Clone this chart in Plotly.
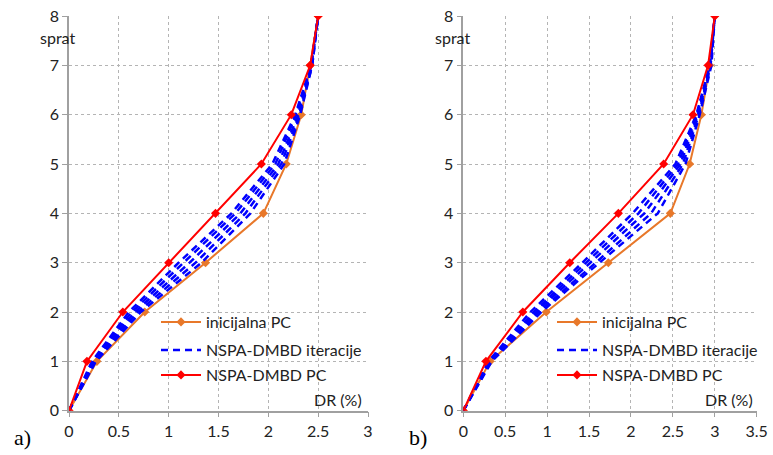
import plotly.graph_objects as go

storeys = [0, 1, 2, 3, 4, 5, 6, 7, 8]

# Chart a)
a_initial = [0, 0.28, 0.76, 1.37, 1.95, 2.18, 2.33, 2.42, 2.50]
a_final = [0, 0.18, 0.54, 1.00, 1.47, 1.93, 2.23, 2.42, 2.50]
a_iterations = [
    [0, 0.27, 0.72, 1.33, 1.82, 2.16, 2.32, 2.44, 2.50],
    [0, 0.26, 0.69, 1.27, 1.77, 2.13, 2.31, 2.44, 2.50],
    [0, 0.25, 0.66, 1.21, 1.72, 2.10, 2.30, 2.43, 2.50],
    [0, 0.24, 0.63, 1.15, 1.67, 2.07, 2.28, 2.43, 2.50],
    [0, 0.23, 0.60, 1.10, 1.63, 2.04, 2.27, 2.43, 2.50],
]

# Chart b)
b_initial = [0, 0.32, 0.99, 1.73, 2.47, 2.70, 2.84, 2.94, 3.00]
b_final = [0, 0.27, 0.71, 1.27, 1.85, 2.39, 2.74, 2.92, 3.00]
b_iterations = [
    [0, 0.34, 0.93, 1.63, 2.32, 2.65, 2.82, 2.96, 3.00],
    [0, 0.33, 0.90, 1.58, 2.24, 2.62, 2.81, 2.95, 3.00],
    [0, 0.32, 0.87, 1.52, 2.16, 2.59, 2.80, 2.95, 3.00],
    [0, 0.31, 0.84, 1.47, 2.09, 2.56, 2.79, 2.94, 3.00],
    [0, 0.30, 0.80, 1.42, 2.02, 2.53, 2.78, 2.94, 3.00],
]

ORANGE = "#E8782A"
RED = "#FF0000"
BLUE = "#0000FF"
GRID = "#B4B4B4"
AXIS = "#A0A0A0"
FONT = "Lato"
TXT = "#222222"

fig = go.Figure()

def add_panel(xa, ya, initial, iterations, final, legs):
    fig.add_trace(go.Scatter(
        x=initial, y=storeys, xaxis=xa, yaxis=ya, mode="lines+markers",
        name="inicijalna PC", line=dict(color=ORANGE, width=2),
        marker=dict(symbol="diamond", size=7, color=ORANGE), legend=legs[0], showlegend=True))
    for i, it in enumerate(iterations):
        fig.add_trace(go.Scatter(
            x=it, y=storeys, xaxis=xa, yaxis=ya, mode="lines",
            name="NSPA-DMBD iteracije", line=dict(color=BLUE, width=2.5, dash="7px,5px"),
            showlegend=(i == 0), legend=legs[1]))
    fig.add_trace(go.Scatter(
        x=final, y=storeys, xaxis=xa, yaxis=ya, mode="lines+markers",
        name="NSPA-DMBD PC", line=dict(color=RED, width=2),
        marker=dict(symbol="diamond", size=7, color=RED), legend=legs[2], showlegend=True))

add_panel("x", "y", a_initial, a_iterations, a_final, ["legend2", "legend3", "legend4"])
add_panel("x2", "y2", b_initial, b_iterations, b_final, ["legend5", "legend6", "legend7"])

W, H = 773, 455
def px(x):
    return x / W
def py(y):
    return 1 - y / H

axis_common = dict(
    showgrid=True, gridcolor=GRID, griddash="dot", gridwidth=1,
    showline=True, linecolor=AXIS, linewidth=1.5,
    ticks="outside", ticklen=5, tickcolor=AXIS,
    tickfont=dict(family=FONT, size=16, color=TXT),
    zeroline=False, fixedrange=True, automargin=False,
)

ydom = [py(410.7), py(16)]
fig.update_layout(
    xaxis=dict(domain=[px(69), px(368)], range=[0, 3], dtick=0.5, anchor="y", **axis_common),
    yaxis=dict(domain=ydom, range=[0, 8], dtick=1, anchor="x", **axis_common),
    xaxis2=dict(domain=[px(463.3), px(756.7)], range=[0, 3.5], dtick=0.5, anchor="y2", **axis_common),
    yaxis2=dict(domain=ydom, range=[0, 8], dtick=1, anchor="x2", **axis_common),
    width=W, height=H,
    margin=dict(l=0, r=0, t=0, b=0, autoexpand=False),
    paper_bgcolor="white", plot_bgcolor="white",
    font=dict(family=FONT, size=15, color=TXT),
    showlegend=True,
)

leg_style = dict(bgcolor="rgba(0,0,0,0)", font=dict(family=FONT, size=16, color=TXT),
                 xanchor="left", yanchor="middle", itemwidth=40)
rows = [322, 350, 375]
for n, r in zip(["legend2", "legend3", "legend4"], rows):
    fig.update_layout({n: dict(x=px(156), y=py(r), **leg_style)})
for n, r in zip(["legend5", "legend6", "legend7"], rows):
    fig.update_layout({n: dict(x=px(552), y=py(r), **leg_style)})

ann = [
    dict(text="sprat", x=px(57), y=py(37)),
    dict(text="sprat", x=px(452), y=py(37)),
    dict(text="DR (%)", x=px(338), y=py(399)),
    dict(text="DR (%)", x=px(729), y=py(399)),
]
for a in ann:
    fig.add_annotation(text=a["text"], x=a["x"], y=a["y"], xref="paper", yref="paper",
                       showarrow=False, xanchor="center", yanchor="middle",
                       font=dict(family=FONT, size=16, color=TXT))
for t, x in [("a)", 22), ("b)", 418)]:
    fig.add_annotation(text=t, x=px(x), y=py(437), xref="paper", yref="paper",
                       showarrow=False, xanchor="center", yanchor="middle",
                       font=dict(family="Liberation Serif", size=22, color="#000000"))

fig.write_html("out.html", config={"displayModeBar": False},
               post_script="document.body.style.margin='0';document.body.style.overflow='hidden';")
